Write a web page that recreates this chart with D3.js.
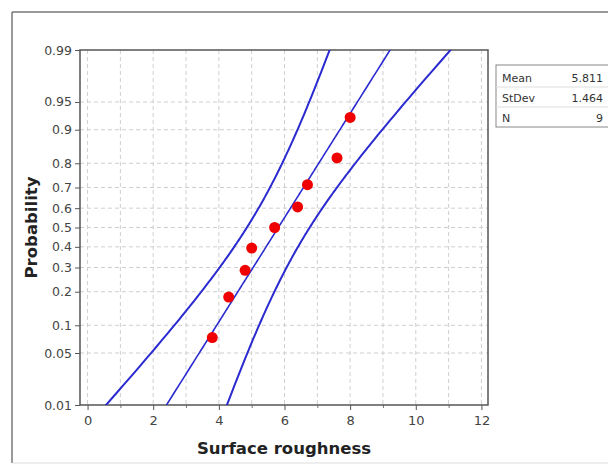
<!DOCTYPE html>
<html>
<head>
<meta charset="utf-8">
<script src="https://cdn.jsdelivr.net/npm/d3@7"></script>
<style>
  body { margin: 0; background: #fff; }
  text { font-family: "DejaVu Sans", Verdana, sans-serif; }
</style>
</head>
<body>
<div class="chart"></div>
<script>
// data
var roughness = [3.8, 4.3, 4.8, 5.0, 5.7, 6.4, 6.7, 7.6, 8.0];
var probTicks = [0.01, 0.05, 0.1, 0.2, 0.3, 0.4, 0.5, 0.6, 0.7, 0.8, 0.9, 0.95, 0.99];
var xTicks = [0, 2, 4, 6, 8, 10, 12];
var statNames = ['Mean', 'StDev', 'N'];

var width = 608, height = 465;
var n = roughness.length;
var mean = d3.mean(roughness);
var sd = d3.deviation(roughness);
var statValues = [mean.toFixed(3), sd.toFixed(3), String(n)];

// inverse normal cdf (Acklam)
function qnorm(p) {
  var a = [-39.69683028665376, 220.9460984245205, -275.9285104469687, 138.3577518672690, -30.66479806614716, 2.506628277459239];
  var b = [-54.47609879822406, 161.5858368580409, -155.6989798598866, 66.80131188771972, -13.28068155288572];
  var c = [-0.007784894002430293, -0.3223964580411365, -2.400758277161838, -2.549732539343734, 4.374664141464968, 2.938163982698783];
  var d = [0.007784695709041462, 0.3224671290700398, 2.445134137142996, 3.754408661907416];
  var q, r;
  if (p < 0.02425) {
    q = Math.sqrt(-2 * Math.log(p));
    return (((((c[0]*q+c[1])*q+c[2])*q+c[3])*q+c[4])*q+c[5]) / ((((d[0]*q+d[1])*q+d[2])*q+d[3])*q+1);
  } else if (p > 1 - 0.02425) {
    q = Math.sqrt(-2 * Math.log(1 - p));
    return -(((((c[0]*q+c[1])*q+c[2])*q+c[3])*q+c[4])*q+c[5]) / ((((d[0]*q+d[1])*q+d[2])*q+d[3])*q+1);
  }
  q = p - 0.5; r = q * q;
  return (((((a[0]*r+a[1])*r+a[2])*r+a[3])*r+a[4])*r+a[5])*q / (((((b[0]*r+b[1])*r+b[2])*r+b[3])*r+b[4])*r+1);
}

var svg = d3.select('.chart').append('svg')
  .attr('width', width).attr('height', height);

// outer frame
svg.append('line').attr('x1', 12).attr('x2', width).attr('y1', 12).attr('y2', 12).attr('stroke', '#777').attr('stroke-width', 1.5);
svg.append('line').attr('x1', 12).attr('x2', 12).attr('y1', 12).attr('y2', 463).attr('stroke', '#777').attr('stroke-width', 1.5);
svg.append('line').attr('x1', 12).attr('x2', width).attr('y1', 463).attr('y2', 463).attr('stroke', '#ddd');

var pLeft = 80, pRight = 488, pTop = 50, pBottom = 405;

var x = d3.scaleLinear().domain([-0.23, 12.2]).range([pLeft, pRight]);
var zmax = qnorm(0.99);
var zScale = d3.scaleLinear().domain([-zmax, zmax]).range([pBottom, pTop]);
function y(p) { return zScale(qnorm(p)); }

// grid
var grid = svg.append('g').attr('stroke', '#cfcfcf').attr('stroke-dasharray', '4,3').attr('stroke-width', 1);
d3.range(0, 13).forEach(function(v) {
  grid.append('line').attr('x1', x(v)).attr('x2', x(v)).attr('y1', pTop).attr('y2', pBottom);
});
probTicks.slice(1, -1).forEach(function(p) {
  grid.append('line').attr('x1', pLeft).attr('x2', pRight).attr('y1', y(p)).attr('y2', y(p));
});

// axes
var xAxis = d3.axisBottom(x).tickValues(xTicks).tickSize(5).tickPadding(6).tickFormat(d3.format('d'));
var gx = svg.append('g').attr('transform', 'translate(0,' + pBottom + ')').call(xAxis);
var xMinor = d3.axisBottom(x).tickValues([1, 3, 5, 7, 9, 11]).tickSize(3).tickFormat('');
var gxm = svg.append('g').attr('transform', 'translate(0,' + pBottom + ')').call(xMinor);
gxm.select('.domain').remove();
gxm.selectAll('line').attr('stroke', '#777');

var yAxis = d3.axisLeft(zScale).tickValues(probTicks.map(qnorm)).tickSize(5)
  .tickFormat(function(z, i) { return String(probTicks[i]); });
var gy = svg.append('g').attr('transform', 'translate(' + pLeft + ',0)').call(yAxis);

[gx, gy].forEach(function(g) {
  g.select('.domain').remove();
  g.selectAll('line').attr('stroke', '#555');
  g.selectAll('text').attr('fill', '#444').style('font-size', '13px');
});
gy.selectAll('text').style('font-size', '12.5px');

// plot border
svg.append('rect').attr('x', pLeft).attr('y', pTop).attr('width', pRight - pLeft).attr('height', pBottom - pTop)
  .attr('fill', 'none').attr('stroke', '#555').attr('stroke-width', 1.5);

// fitted line and confidence bands
var ps = d3.range(0, 201).map(function(i) { return 0.005 + i * 0.99 / 200; });
function band(k) {
  return ps.map(function(p) {
    var z = qnorm(p);
    var se = sd / Math.sqrt(n) * Math.sqrt(1 + z * z / 2);
    return [mean + z * sd + k * 1.96 * se, z];
  });
}
var line = d3.line().x(function(d) { return x(d[0]); }).y(function(d) { return zScale(d[1]); });

svg.append('clipPath').attr('id', 'clip').append('rect')
  .attr('x', pLeft).attr('y', pTop).attr('width', pRight - pLeft).attr('height', pBottom - pTop);
var plot = svg.append('g').attr('clip-path', 'url(#clip)');
[-1, 0, 1].forEach(function(k) {
  plot.append('path').attr('d', line(band(k)))
    .attr('fill', 'none').attr('stroke', '#2a2ad0').attr('stroke-width', k === 0 ? 1.6 : 2);
});

// points (median ranks)
var sorted = roughness.slice().sort(d3.ascending);
plot.selectAll('.pt').data(sorted).enter().append('circle')
  .attr('class', 'pt')
  .attr('cx', function(d) { return x(d); })
  .attr('cy', function(d, i) { return y((i + 1 - 0.3) / (n + 0.4)); })
  .attr('r', 5.5)
  .attr('fill', '#f00000');

// axis titles
svg.append('text').attr('x', (pLeft + pRight) / 2).attr('y', 454).attr('text-anchor', 'middle')
  .style('font-size', '16.5px').style('font-weight', 'bold').attr('fill', '#222').text('Surface roughness');
svg.append('text').attr('transform', 'translate(37,' + (pTop + pBottom) / 2 + ') rotate(-90)')
  .attr('text-anchor', 'middle').style('font-size', '16.5px').style('font-weight', 'bold').attr('fill', '#222')
  .text('Probability');

// stats box
var box = svg.append('g').attr('transform', 'translate(496,65)');
box.append('rect').attr('width', 130).attr('height', 62).attr('fill', '#fff').attr('stroke', '#888');
statNames.forEach(function(name, i) {
  box.append('text').attr('x', 6).attr('y', 17 + i * 20).style('font-size', '11px').attr('fill', '#333').text(name);
  box.append('text').attr('x', 107).attr('y', 17 + i * 20).attr('text-anchor', 'end').style('font-size', '11px')
    .attr('fill', '#333').text(statValues[i]);
  if (i > 0) box.append('line').attr('x1', 0).attr('x2', 130).attr('y1', i * 20 + 2).attr('y2', i * 20 + 2).attr('stroke', '#ddd');
});
</script>
</body>
</html>
